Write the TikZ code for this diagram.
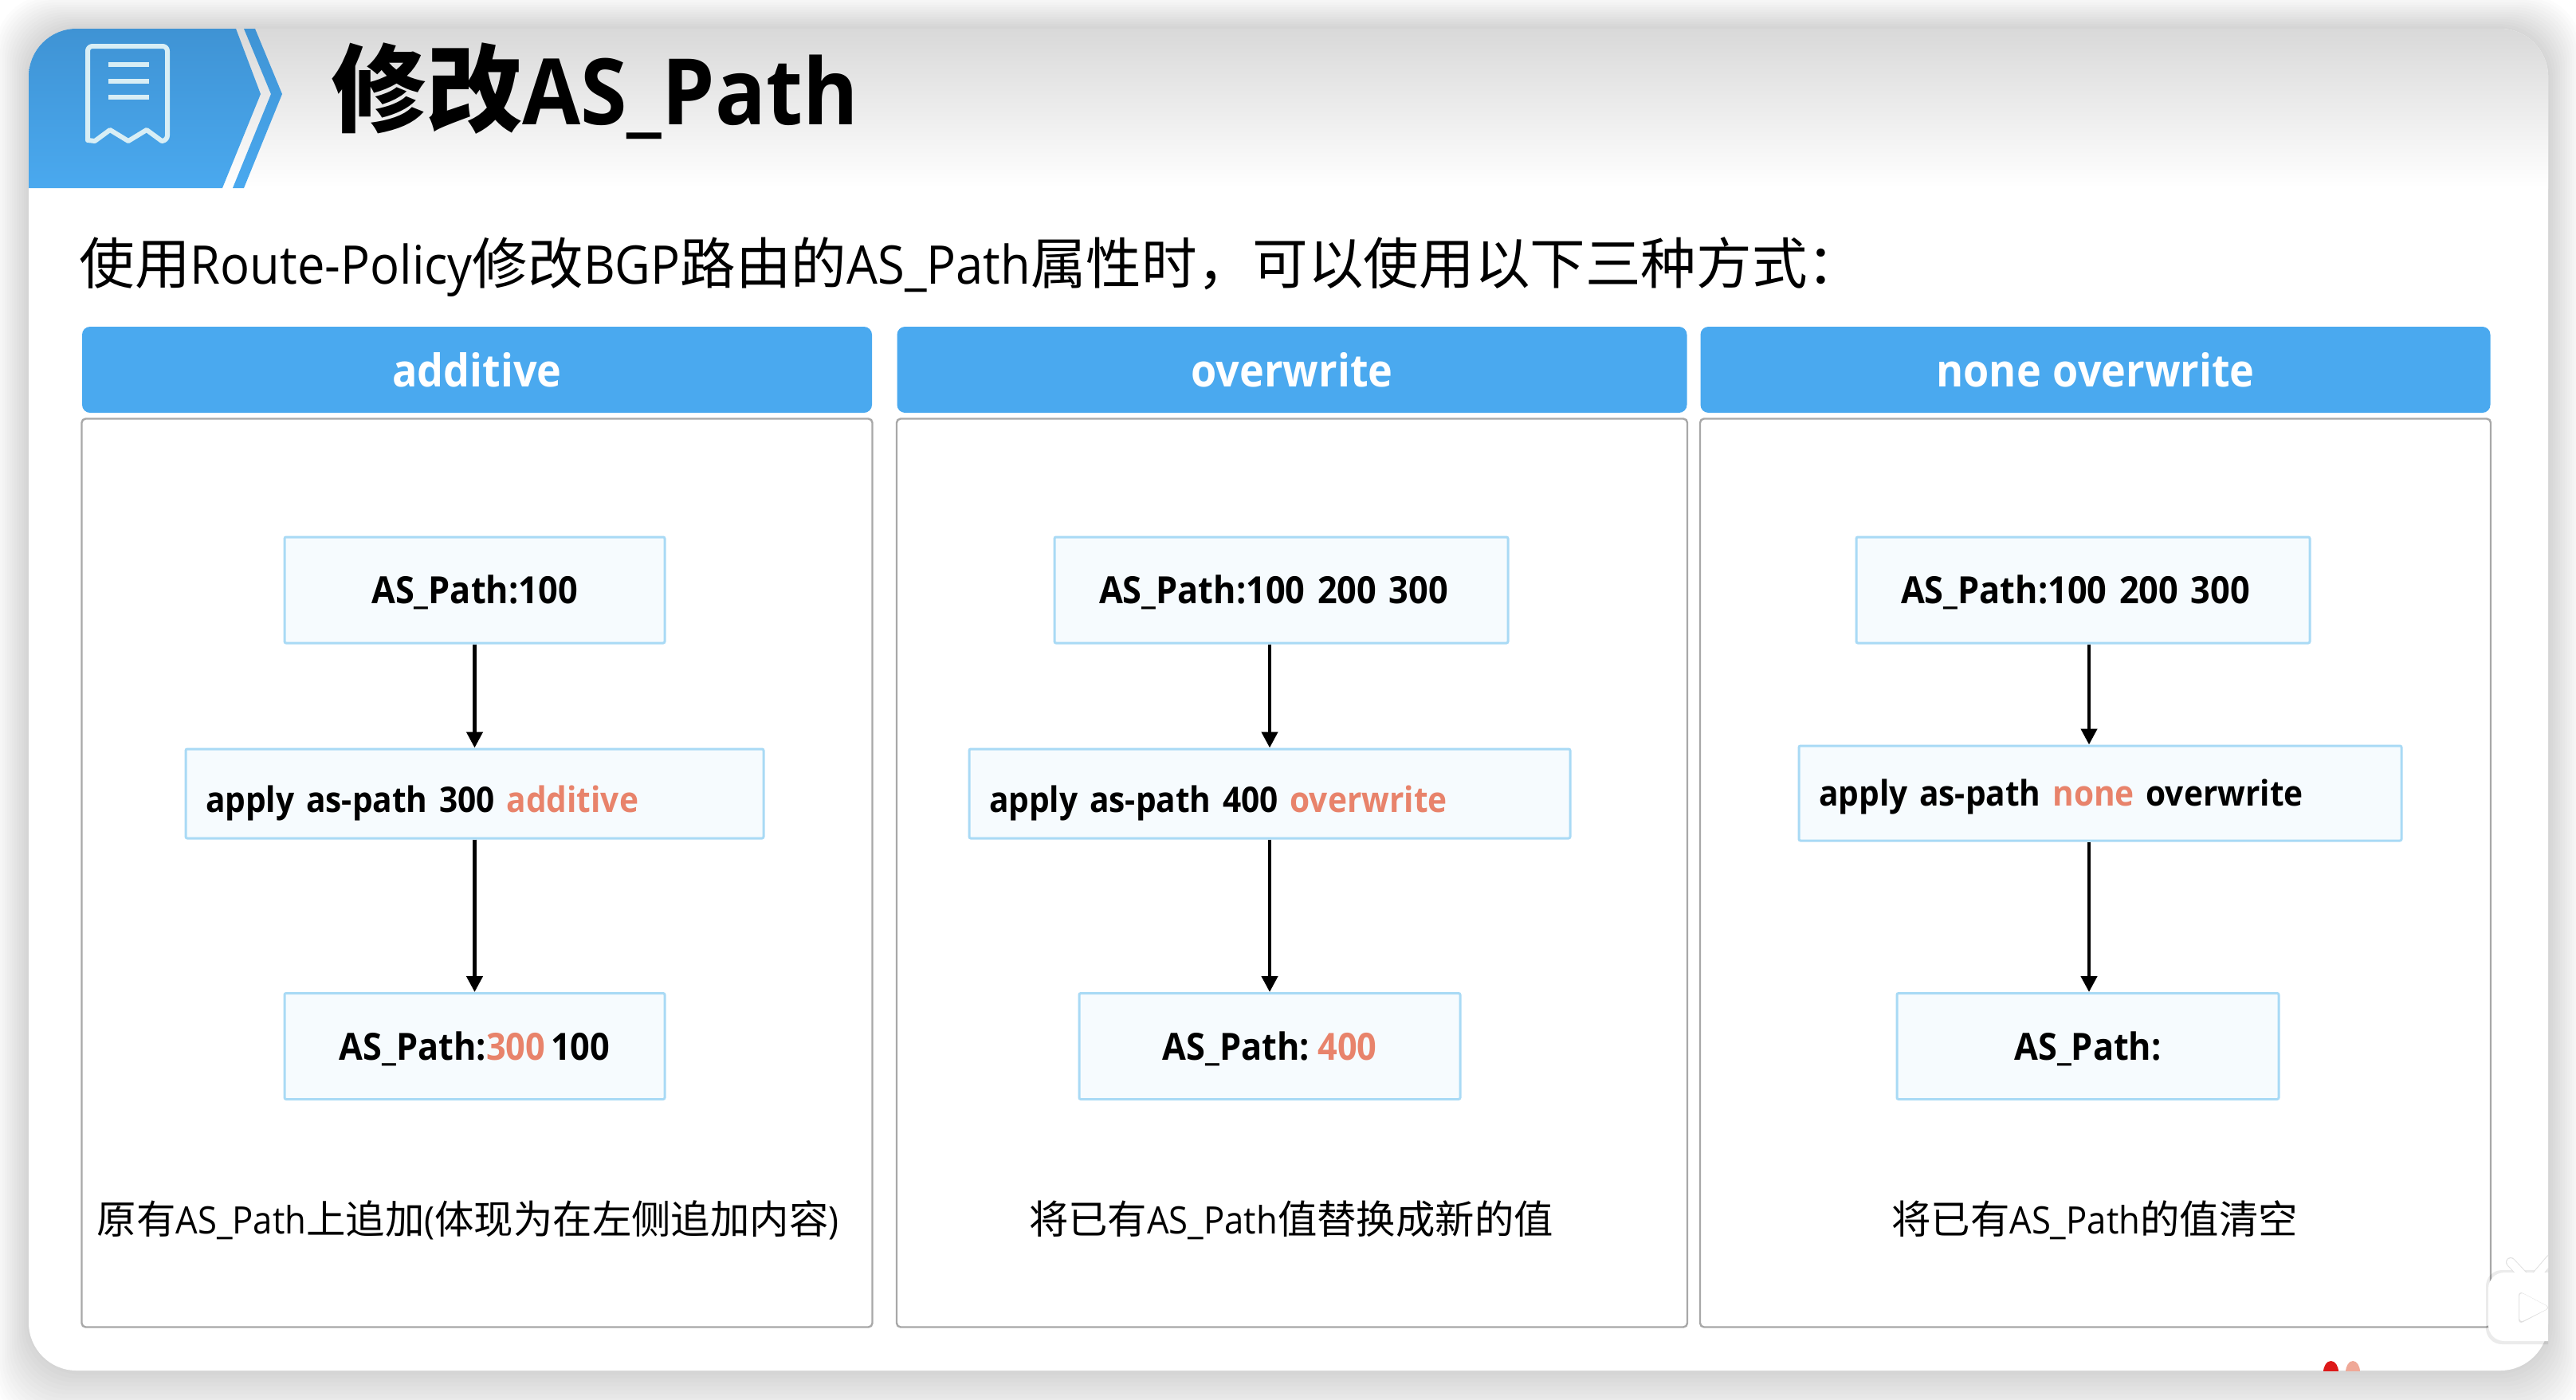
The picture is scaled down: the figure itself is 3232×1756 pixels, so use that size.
\documentclass[tikz,border=0pt]{standalone}
\usepackage{fontspec}
\setmainfont{Open Sans}[Scale=0.96,FakeStretch=0.92,WordSpace=0.6]
\newfontfamily\zhfont{Noto Sans CJK SC}
\usetikzlibrary{arrows.meta}
\definecolor{barblue}{HTML}{4AA9EF}
\definecolor{topblue}{HTML}{3F93D4}
\definecolor{boxline}{HTML}{A9DAF5}
\definecolor{boxfill}{HTML}{F6FBFE}
\definecolor{hotword}{HTML}{E8836B}
\definecolor{panelline}{HTML}{A8A8A8}
\definecolor{iconline}{HTML}{D8EEF5}

\begin{document}
\begin{tikzpicture}[x=0.5pt,y=-0.5pt]
        \tikzstyle{headbar}=[fill=barblue,rounded corners=5pt,minimum width=495.5pt,minimum height=54pt,inner sep=0pt,text=white,font=\fontsize{29.5}{32}\selectfont\bfseries]
        \tikzstyle{panel}=[draw=panelline,fill=white,line width=1.2pt,rounded corners=2.5pt,minimum width=496pt,minimum height=570pt,inner sep=0pt]
        \tikzstyle{flowbox}=[draw=boxline,fill=boxfill,line width=1.5pt,rounded corners=1pt,minimum height=66.5pt,inner ysep=0pt,inner xsep=0pt,text height=17pt,text depth=0pt,font=\fontsize{24.5}{27}\selectfont\bfseries]
        \tikzstyle{midbox}=[flowbox,minimum height=56pt,inner xsep=12.5pt,text height=23pt,align=left,font=\fontsize{23}{26}\selectfont\bfseries]
        \tikzstyle{note}=[font=\fontsize{24.7}{28}\selectfont]
        \tikzstyle{flow}=[-{Triangle[length=10pt,width=10pt]},line width=2.2pt]

        \useasboundingbox (0,0) rectangle (3232,1756);
        \fill[white] (0,0) rectangle (3232,1756);
        % soft shadow round the slide
        \foreach \s in {1,...,14}
            \fill[black,opacity=0.011,rounded corners=34pt] (36-3*\s,36-3*\s) rectangle (3197+3*\s,1720+5*\s);
        \fill[white,rounded corners=30pt] (36,36) rectangle (3197,1720);
        \begin{scope}
            \clip[rounded corners=30pt] (36,36) rectangle (3197,1720);
            \shade[top color=black!15,bottom color=white] (36,36) rectangle (3197,236);
            % title band
            \shade[top color=topblue,bottom color=barblue] (36,236) -- (36,36) -- (296,36) -- (327,118) -- (279,236) -- cycle;
            \shade[top color=topblue,bottom color=barblue] (306,36) -- (320,36) -- (354,118) -- (306,236) -- (292,236) -- (340,118) -- cycle;
        \end{scope}
        \draw[iconline,line width=3pt,line join=round,rounded corners=3pt] (110,176) -- (110,58) -- (210,58) -- (210,176) [sharp corners] -- (203,177) -- (184,163) -- (161,177) -- (138,163) -- (119,177) -- cycle;
        \foreach \y in {81,102,122}
            \draw[iconline,line width=3.2pt] (136,\y) -- (187,\y);
        \node[anchor=base west,inner sep=0pt,font=\fontsize{60}{66}\selectfont\bfseries] (title) at (415,156) {{\zhfont 修改}AS\_Path};
        \node[anchor=base west,inner sep=0pt,font=\fontsize{34.8}{40}\selectfont] (lead) at (99,356) {{\zhfont 使用}Route-Policy{\zhfont 修改}BGP{\zhfont 路由的}AS\_Path{\zhfont 属性时，可以使用以下三种方式：}};

        % additive
        \node[headbar] (headA) at (598.5,464) {additive};
        \node[panel] (panelA) at (598.5,1095.5) {};
        \node[flowbox,minimum width=238.5pt] (topA) at (595.5,740.5) {AS\_Path:100};
        \node[midbox,text width=337.5pt] (midA) at (595.5,996) {apply as-path 300 \textcolor{hotword}{additive}};
        \node[flowbox,minimum width=238.5pt] (endA) at (595.5,1313) {AS\_Path:\textcolor{hotword}{300} 100};
        \draw[flow] (topA) -- (midA);
        \draw[flow] (midA) -- (endA);
        \node[note] (noteA) at (587,1531) {{\zhfont 原有}AS\_Path{\zhfont 上追加}({\zhfont 体现为在左侧追加内容})};

        % overwrite
        \node[headbar] (headB) at (1621,464) {overwrite};
        \node[panel] (panelB) at (1621,1095.5) {};
        \node[flowbox,text width=228.5pt,inner xsep=28pt,align=left] (topB) at (1607.5,740.5) {AS\_Path:100 200 300};
        \node[midbox,text width=352pt] (midB) at (1593,996) {apply as-path 400 \textcolor{hotword}{overwrite}};
        \node[flowbox,minimum width=239pt] (endB) at (1593,1313) {AS\_Path: \textcolor{hotword}{400}};
        \draw[flow] (midB |- topB.south) -- (midB);
        \draw[flow] (midB) -- (endB);
        \node[note] (noteB) at (1620,1531) {{\zhfont 将已有}AS\_Path{\zhfont 值替换成新的值}};

        % none overwrite
        \node[headbar] (headC) at (2629,464) {none\hspace{0.12em} overwrite};
        \node[panel] (panelC) at (2629,1095.5) {};
        \node[flowbox,text width=228.5pt,inner xsep=28pt,align=left] (topC) at (2613.5,740.5) {AS\_Path:100 200 300};
        \node[midbox,minimum height=59.5pt,text height=16pt,text width=353pt] (midC) at (2635,995.5) {apply as-path \textcolor{hotword}{none} overwrite};
        \node[flowbox,minimum width=239.5pt] (endC) at (2619.5,1313) {AS\_Path:};
        \coordinate (axisC) at (2621,0);
        \draw[flow] (axisC |- topC.south) -- (axisC |- midC.north);
        \draw[flow] (axisC |- midC.south) -- (axisC |- endC.north);
        \node[note] (noteC) at (2628,1531) {{\zhfont 将已有}AS\_Path{\zhfont 的值清空}};

        % watermark, cut off by the slide edge
        \begin{scope}
            \clip (2800,1500) rectangle (3197,1720);
            \fill[black,opacity=0.08,rounded corners=10pt] (3119,1594) rectangle (3230,1687);
            \draw[black!12,line width=6pt,line cap=round] (3150,1584) -- (3165,1600);
            \draw[black!12,line width=6pt,line cap=round] (3200,1580) -- (3183,1600);
            \draw[white,line width=5pt,line cap=round] (3150,1584) -- (3165,1600);
            \draw[white,line width=5pt,line cap=round] (3200,1580) -- (3183,1600);
            \fill[white,rounded corners=10pt] (3122,1597) rectangle (3230,1683);
            \fill[black!12,rounded corners=3pt] (3160,1620) -- (3200,1641) -- (3160,1662) -- cycle;
            \fill[white,rounded corners=3pt] (3161,1621) -- (3199,1641) -- (3161,1660) -- cycle;
            \fill[red!85!black!90] (2924.5,1722) ellipse (4.75pt and 7pt);
            \fill[hotword!70] (2952,1722) ellipse (4.5pt and 7pt);
        \end{scope}
    \end{tikzpicture}
\end{document}
